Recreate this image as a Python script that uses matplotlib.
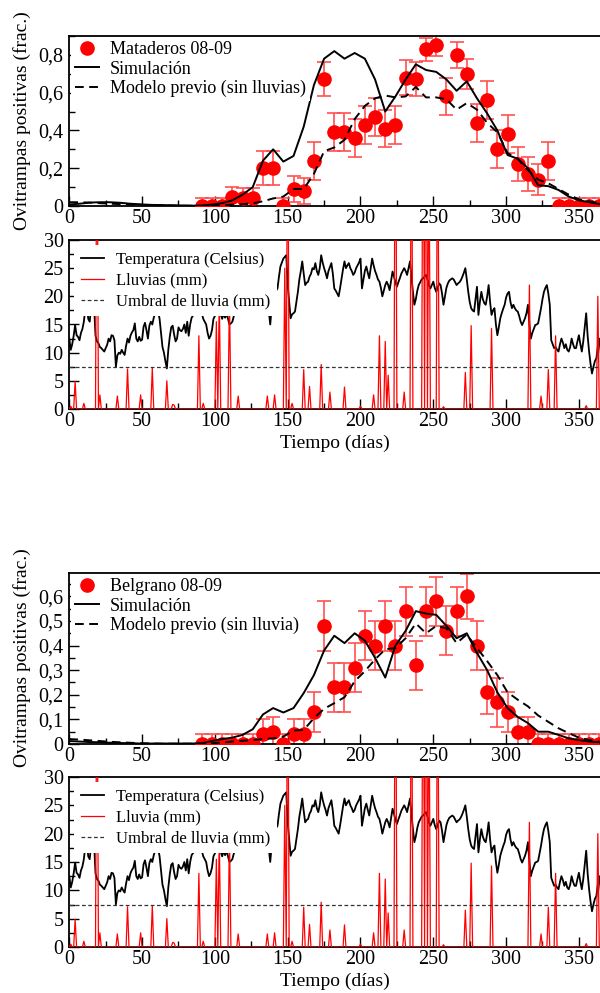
import numpy as np
import matplotlib
matplotlib.use("Agg")
import matplotlib.pyplot as plt
from matplotlib.ticker import MultipleLocator, FuncFormatter

plt.rcParams['font.family'] = ['Liberation Serif', 'DejaVu Serif']

# weekly grid for the model curves, weekly sampling of the ovitraps
week = np.arange(0, 365, 7)
obs_days = np.arange(91, 365, 7)

# --- Mataderos 08-09 ---
mat_obs = [0, 0, 0, 0.05, 0.04, 0.04, 0.20, 0.20, 0, 0.09,
           0.08, 0.24, 0.67, 0.39, 0.39, 0.36, 0.43, 0.47, 0.41, 0.43,
           0.68, 0.67, 0.83, 0.85, 0.58, 0.80, 0.70, 0.44, 0.56, 0.30,
           0.38, 0.22, 0.17, 0.14, 0.24, 0, 0, 0, 0, 0]
mat_err = [0.04, 0.04, 0.04, 0.05, 0.055, 0.055, 0.09, 0.09, 0.04, 0.07,
           0.07, 0.10, 0.09, 0.10, 0.10, 0.10, 0.10, 0.10, 0.10, 0.10,
           0.095, 0.09, 0.06, 0.055, 0.10, 0.07, 0.08, 0.10, 0.10, 0.10,
           0.10, 0.09, 0.09, 0.08, 0.10, 0.04, 0.04, 0.04, 0.04, 0.04]
mat_sim = [0.008, 0.012, 0.018, 0.02, 0.02, 0.017, 0.012, 0.009, 0.006, 0.005,
           0.004, 0.003, 0.002, 0.002, 0.008, 0.015, 0.03, 0.06, 0.10, 0.24,
           0.30, 0.235, 0.265, 0.42, 0.64, 0.78, 0.82, 0.78, 0.81, 0.78,
           0.67, 0.50, 0.58, 0.67, 0.75, 0.72, 0.71, 0.67, 0.61, 0.66,
           0.57, 0.49, 0.40, 0.27, 0.25, 0.20, 0.11, 0.105, 0.085, 0.05,
           0.03, 0.02, 0.01]
mat_prev = [0.02, 0.02, 0.018, 0.015, 0.012, 0.01, 0.008, 0.006, 0.004, 0.003,
            0.002, 0.001, 0.001, 0.001, 0.002, 0.004, 0.007, 0.01, 0.014, 0.025,
            0.04, 0.05, 0.09, 0.09, 0.17, 0.29, 0.31, 0.35, 0.46, 0.53,
            0.57, 0.585, 0.575, 0.58, 0.63, 0.575, 0.575, 0.565, 0.51, 0.545,
            0.51, 0.44, 0.39, 0.28, 0.25, 0.19, 0.14, 0.12, 0.09, 0.06,
            0.035, 0.025, 0.015]

# --- Belgrano 08-09 ---
bel_obs = [0, 0, 0, 0, 0, 0, 0.04, 0.05, 0, 0.04,
           0.04, 0.13, 0.48, 0.23, 0.23, 0.31, 0.44, 0.40, 0.48, 0.40,
           0.54, 0.32, 0.54, 0.58, 0.46, 0.54, 0.60, 0.40, 0.21, 0.17,
           0.13, 0.05, 0.05, 0, 0, 0, 0, 0, 0, 0]
bel_err = [0.04, 0.04, 0.04, 0.04, 0.04, 0.04, 0.06, 0.06, 0.04, 0.06,
           0.06, 0.08, 0.10, 0.10, 0.10, 0.10, 0.10, 0.10, 0.10, 0.10,
           0.10, 0.10, 0.10, 0.10, 0.10, 0.10, 0.09, 0.10, 0.09, 0.10,
           0.08, 0.06, 0.06, 0.04, 0.04, 0.04, 0.04, 0.04, 0.04, 0.04]
bel_sim = [0.012, 0.01, 0.008, 0.007, 0.005, 0.004, 0.003, 0.002, 0.002, 0.002,
           0.002, 0.002, 0.002, 0.003, 0.012, 0.02, 0.026, 0.037, 0.06, 0.12,
           0.146, 0.128, 0.146, 0.207, 0.28, 0.38, 0.44, 0.41, 0.45, 0.42,
           0.35, 0.27, 0.40, 0.46, 0.54, 0.53, 0.525, 0.48, 0.43, 0.45,
           0.37, 0.30, 0.21, 0.146, 0.11, 0.085, 0.05, 0.05, 0.037, 0.023,
           0.016, 0.01, 0.007]
bel_prev = [0.02, 0.018, 0.015, 0.012, 0.009, 0.007, 0.005, 0.003, 0.002, 0.001,
            0.001, 0.001, 0.001, 0.001, 0.003, 0.006, 0.01, 0.013, 0.016, 0.02,
            0.023, 0.03, 0.055, 0.057, 0.105, 0.143, 0.166, 0.19, 0.255, 0.296,
            0.344, 0.385, 0.39, 0.43, 0.49, 0.45, 0.48, 0.47, 0.41, 0.445,
            0.39, 0.337, 0.28, 0.21, 0.18, 0.153, 0.116, 0.09, 0.064, 0.044,
            0.026, 0.016, 0.01]

# --- daily temperature (Celsius), days 0..365 ---
temp = [12.5, 10.5, 11.5, 13.0, 14.9, 13.1, 12.8, 12.2, 13.5, 14.2,
        15.5, 17.8, 19.0, 16.0, 15.5, 18.0, 19.0, 18.5, 13.0, 12.0,
        11.7, 11.0, 10.8, 10.5, 10.2, 10.8, 11.4, 12.5, 12.0, 13.1,
        13.0, 12.2, 7.5, 9.5, 10.0, 9.8, 10.5, 10.0, 9.6, 11.2,
        12.5, 11.8, 13.0, 13.6, 14.0, 15.2, 12.5, 12.0, 12.8, 12.1,
        12.3, 14.6, 15.3, 14.0, 12.5, 14.8, 15.5, 15.0, 16.2, 17.0,
        17.5, 17.4, 16.0, 13.5, 11.0, 10.0, 8.5, 7.2, 10.5, 12.8,
        14.5, 14.8, 13.2, 12.0, 12.5, 14.5, 14.0, 13.8, 14.2, 15.0,
        13.5, 15.5, 13.0, 15.0, 16.2, 16.6, 16.8, 17.5, 18.0, 18.5,
        18.0, 17.0, 16.0, 15.5, 15.0, 13.5, 12.5, 13.0, 14.0, 16.0,
        16.5, 17.5, 18.5, 17.8, 16.8, 16.0, 17.0, 16.2, 17.0, 16.0,
        15.0, 15.2, 15.5, 16.5, 17.0, 18.5, 18.0, 17.0, 17.8, 17.2,
        18.5, 17.0, 19.0, 20.0, 21.0, 19.5, 20.5, 21.0, 19.0, 20.0,
        21.0, 20.0, 19.0, 19.5, 20.0, 19.0, 18.5, 17.4, 15.0, 18.0,
        20.2, 20.8, 21.0, 21.4, 23.5, 25.3, 26.0, 26.7, 27.0, 27.3,
        22.0, 19.0, 16.1, 16.8, 17.0, 17.3, 19.0, 20.8, 23.0, 24.5,
        26.2, 24.0, 22.0, 22.4, 22.6, 23.5, 24.0, 25.0, 24.8, 25.9,
        24.5, 23.8, 25.0, 27.3, 26.0, 25.0, 24.2, 23.2, 24.5, 25.2,
        25.9, 24.0, 21.4, 21.0, 20.5, 20.0, 21.5, 23.2, 24.8, 26.2,
        25.0, 25.5, 25.9, 25.0, 24.5, 23.8, 24.2, 25.0, 25.5, 26.0,
        26.7, 21.4, 23.0, 24.5, 25.3, 24.2, 23.2, 25.0, 26.7, 25.5,
        24.5, 23.8, 23.0, 22.6, 21.5, 20.0, 21.0, 22.0, 22.6, 22.0,
        21.1, 22.8, 24.4, 23.5, 22.5, 21.7, 22.5, 23.2, 24.0, 24.5,
        25.0, 24.5, 23.8, 25.0, 26.2, 23.5, 20.8, 18.5, 19.5, 21.0,
        22.0, 22.5, 23.0, 23.2, 23.5, 23.8, 23.0, 22.0, 21.4, 22.0,
        22.6, 21.5, 20.8, 21.5, 22.3, 22.0, 20.5, 18.5, 20.0, 21.5,
        22.3, 22.8, 23.0, 23.2, 23.0, 22.5, 22.0, 22.3, 22.5, 22.9,
        23.5, 24.2, 25.0, 23.0, 20.8, 19.0, 17.9, 17.5, 17.3, 19.5,
        21.7, 16.7, 19.0, 20.8, 19.5, 18.8, 18.5, 20.0, 22.0, 19.0,
        16.7, 17.5, 17.9, 15.0, 13.1, 14.5, 16.1, 17.0, 17.8, 18.5,
        19.8, 20.5, 20.8, 19.0, 17.9, 18.5, 17.9, 17.5, 17.3, 16.5,
        15.5, 14.9, 15.5, 16.1, 17.0, 18.5, 15.0, 12.5, 13.5, 14.2,
        14.9, 15.0, 15.2, 16.5, 17.9, 19.5, 20.8, 21.5, 22.0, 20.5,
        18.5, 12.2, 11.5, 10.8, 11.0, 10.5, 10.2, 11.5, 12.5, 11.8,
        10.8, 11.5, 10.5, 10.2, 11.0, 12.5, 11.5, 10.8, 10.8, 12.0,
        13.1, 11.5, 10.2, 12.0, 14.5, 17.0, 13.0, 10.2, 8.0, 6.3,
        7.5, 8.5, 9.0, 11.0, 12.5, 10.0]

# --- daily rain (mm): only rainy days listed ---
rain_days = [1, 4, 10, 19, 21, 33, 40, 49, 57, 67, 71, 72, 89, 92, 101, 103,
             110, 116, 136, 141, 148, 150, 153, 161, 165, 173, 179, 189, 200,
             209, 213, 217, 219, 224, 230, 235, 243, 245, 247, 253, 257, 272,
             276, 290, 316, 324, 329, 334, 355, 363]
rain_mm = [0.5, 4.9, 1.0, 60.0, 2.5, 2.3, 7.1, 2.5, 7.3, 5.0, 0.8, 0.7, 13.0,
           1.0, 15.5, 20.0, 20.0, 2.3, 2.3, 2.5, 25.0, 60.0, 1.0, 7.0, 4.0,
           7.9, 3.0, 3.9, 0.5, 2.5, 13.0, 12.0, 6.0, 70.0, 3.0, 60.0, 70.0,
           80.0, 50.0, 60.0, 0.4, 6.5, 14.8, 14.3, 22.0, 2.3, 7.0, 13.0, 0.6,
           20.0]
threshold = 7.5

days = np.arange(len(temp))
rain = np.zeros(len(temp))
rain[rain_days] = rain_mm

H = 993.0
fig = plt.figure(figsize=(6.0, 9.93), dpi=100)
left = 69.3 / 600
width = 365 * 1.456 / 600


def panel(top, bottom):
    return fig.add_axes([left, 1 - bottom / H, width, (bottom - top) / H])


def style(ax, ymaj, ymin):
    ax.set_xlim(0, 365)
    ax.xaxis.set_major_locator(MultipleLocator(50))
    ax.xaxis.set_minor_locator(MultipleLocator(25))
    ax.yaxis.set_major_locator(MultipleLocator(ymaj))
    ax.yaxis.set_minor_locator(MultipleLocator(ymin))
    ax.tick_params(which='both', direction='in', labelsize=14.5, width=1.0,
                   top=False, right=False, pad=4)
    ax.tick_params(axis='x', pad=2)
    ax.tick_params(which='major', length=7)
    ax.tick_params(which='minor', length=4)
    for s in ax.spines.values():
        s.set_linewidth(1.3)


def comma(v, pos):
    if abs(v) < 1e-9:
        return '0'
    return ('%.1f' % v).replace('.', ',')


def white_legend(ax, **kw):
    leg = ax.legend(loc='upper left', bbox_to_anchor=(0, 1), frameon=True,
                    fancybox=False, **kw)
    leg.get_frame().set_edgecolor('none')
    leg.get_frame().set_facecolor('white')
    leg.get_frame().set_alpha(1)


def frac_panel(ax, obs, err, sim, prev, name, prev_label, ymax, ymaj, ymin):
    ax.errorbar(obs_days, obs, yerr=err, fmt='none', ecolor='#ff5050',
                elinewidth=1.2, capsize=4.8, capthick=1.2, zorder=2)
    ax.plot(obs_days, obs, 'o', color='red', markersize=9.5, zorder=3,
            label=name)
    ax.plot(week, sim, '-', color='black', lw=1.4, zorder=4, label='Simulación')
    ax.plot(week, prev, '--', color='black', lw=1.4, dashes=(4.5, 2.8),
            zorder=4, label=prev_label)
    ax.set_ylim(0, ymax)
    style(ax, ymaj, ymin)
    ax.yaxis.set_major_formatter(FuncFormatter(comma))
    white_legend(ax, borderaxespad=0.1, borderpad=0.2, fontsize=13,
                 handlelength=1.35, handletextpad=0.6, labelspacing=0.12,
                 numpoints=1)


def temp_panel(ax, rain_label):
    ax.plot(days, temp, color='black', lw=1.3, zorder=2,
            label='Temperatura (Celsius)')
    ax.plot(days, rain, color='red', lw=0.9, zorder=3, label=rain_label)
    ax.axhline(threshold, color='#333333', lw=0.9, ls='--', dashes=(3, 2),
               zorder=4, label='Umbral de lluvia (mm)')
    ax.set_ylim(0, 30)
    style(ax, 5, 2.5)
    white_legend(ax, borderaxespad=0.3, borderpad=0.4, fontsize=12,
                 handlelength=1.4, handletextpad=0.7, labelspacing=0.3)


ax1 = panel(36, 206)
frac_panel(ax1, mat_obs, mat_err, mat_sim, mat_prev, 'Mataderos 08-09',
           'Modelo previo (sin lluvias)', 0.9, 0.2, 0.1)
ax2 = panel(240, 409)
temp_panel(ax2, 'Lluvias (mm)')
ax3 = panel(573, 744)
frac_panel(ax3, bel_obs, bel_err, bel_sim, bel_prev, 'Belgrano 08-09',
           'Modelo previo (sin lluvia)', 0.695, 0.1, 0.05)
ax4 = panel(777, 947)
temp_panel(ax4, 'Lluvia (mm)')

ylab = 'Ovitrampas positivas (frac.)'
fig.text(22 / 600, 1 - 121 / H, ylab, rotation=90, ha='center', va='center',
         fontsize=14)
fig.text(22 / 600, 1 - 658 / H, ylab, rotation=90, ha='center', va='center',
         fontsize=14)
fig.text(335 / 600, 1 - 443 / H, 'Tiempo (días)', ha='center', va='center',
         fontsize=14)
fig.text(335 / 600, 1 - 981 / H, 'Tiempo (días)', ha='center', va='center',
         fontsize=14)

fig.savefig('out.png', dpi=100)
